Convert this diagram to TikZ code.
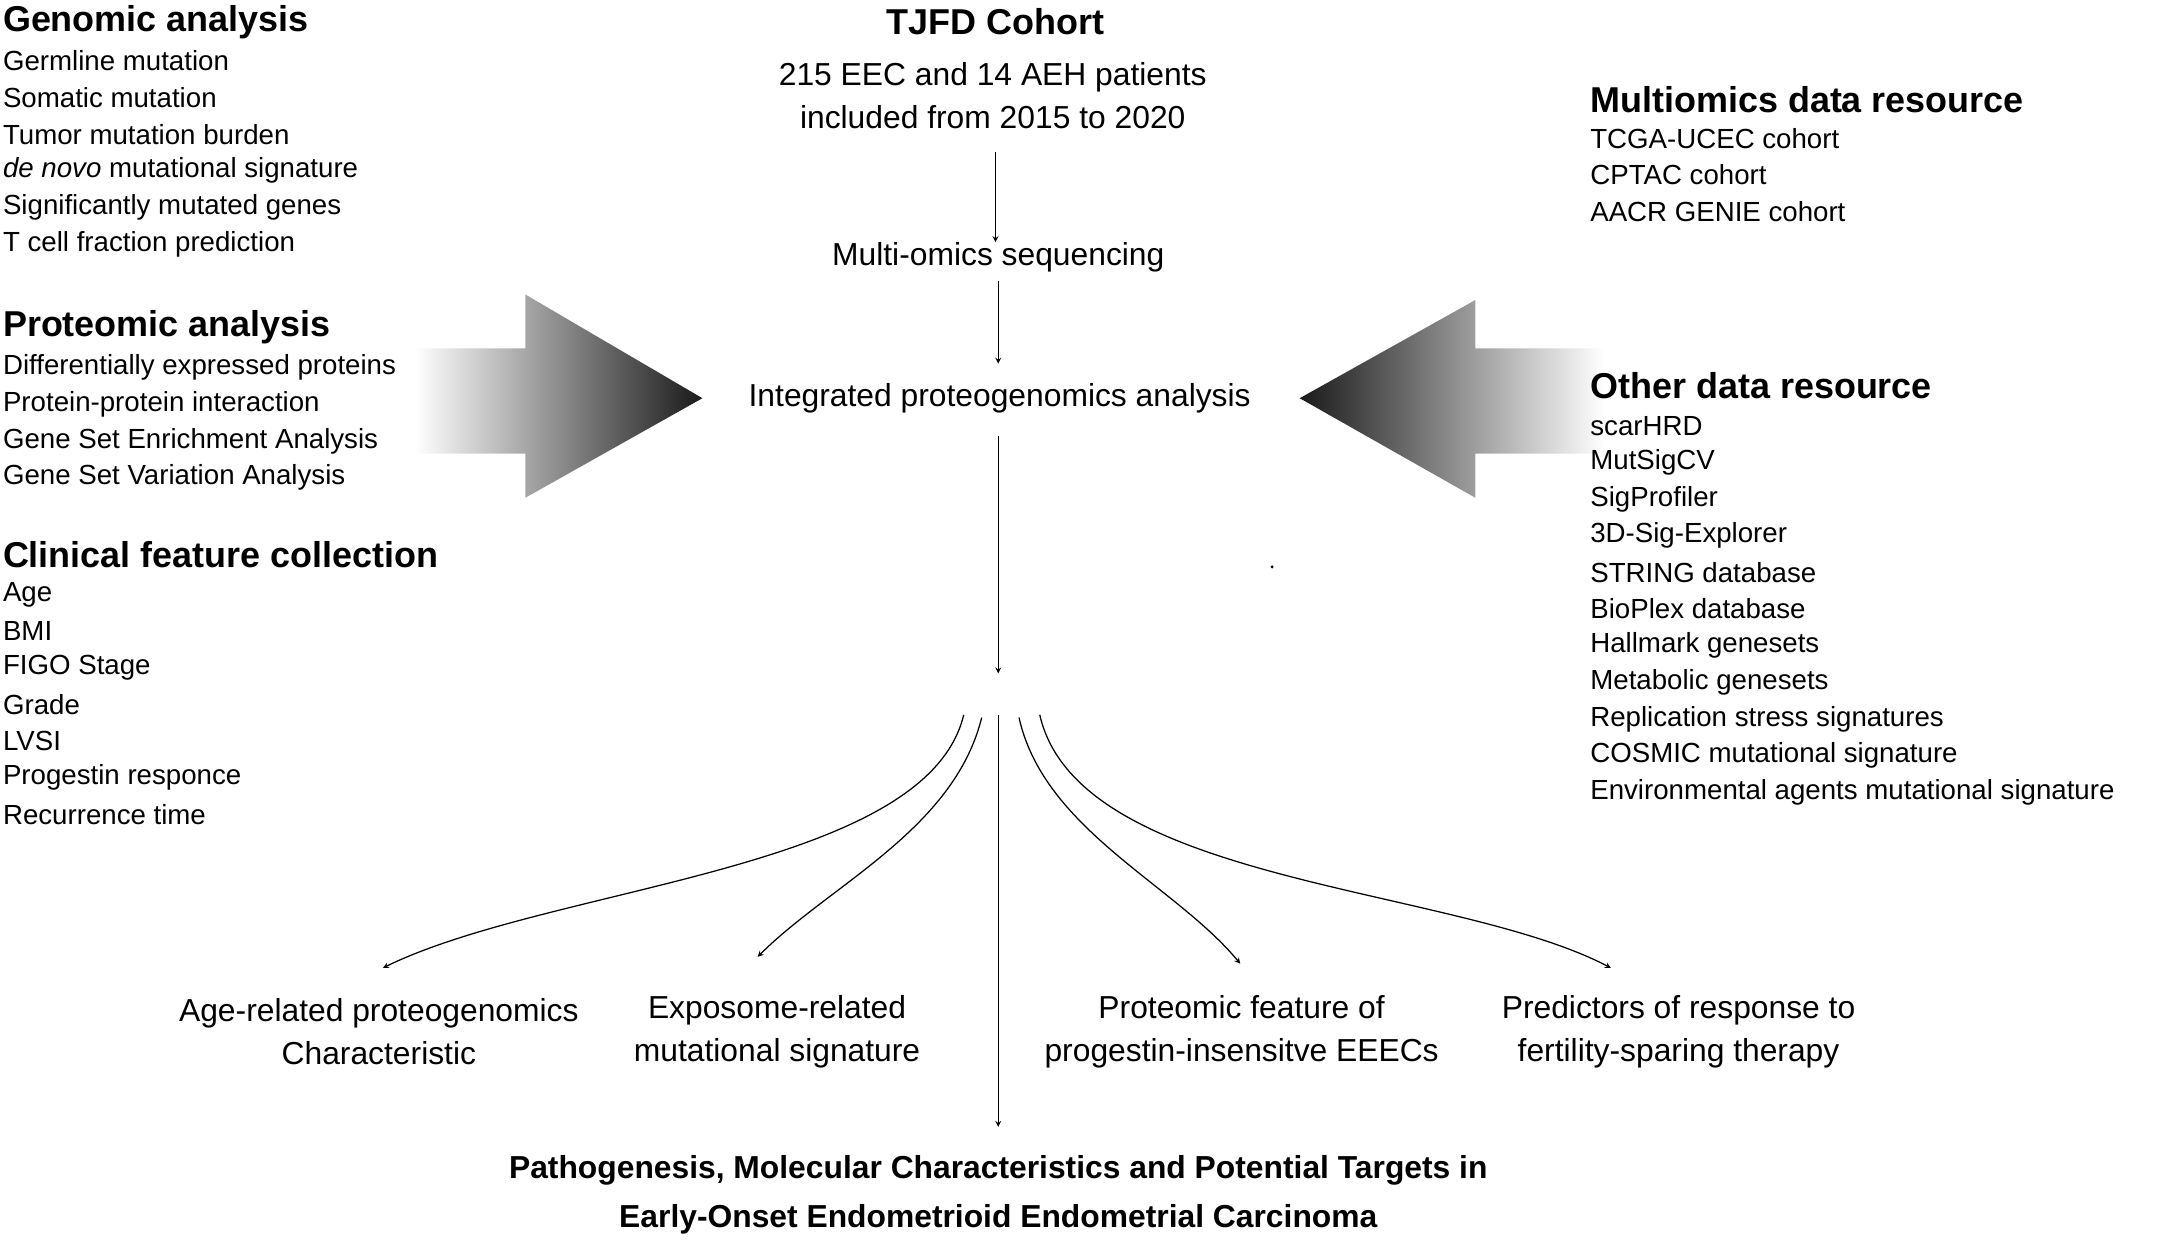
\documentclass[tikz,border=0pt]{standalone}
\usepackage{fontspec}
\setmainfont{Liberation Sans}
\begin{document}
\begin{tikzpicture}[x=1pt,y=-1pt,
  item/.style={anchor=west,inner sep=0pt,font=\fontsize{20}{24}\selectfont},
  head/.style={anchor=west,inner sep=0pt,font=\fontsize{26}{30}\selectfont\bfseries},
  ctext/.style={align=center,inner sep=0pt,font=\fontsize{23}{31}\selectfont},
  final/.style={align=center,inner sep=0pt,font=\fontsize{23}{35}\selectfont\bfseries},
  arr/.style={-stealth,line width=0.9pt}]
\useasboundingbox (0,0) rectangle (1568,902);
% big shaded arrows
\shade[left color=white,middle color=gray!55,right color=black!90]
  (300,252) -- (380,252) -- (380,213) -- (508,288) -- (380,360) -- (380,328) -- (300,328) -- cycle;
\shade[right color=white,middle color=gray!55,left color=black!90]
  (1160,252) -- (1067,252) -- (1067,217) -- (940,288) -- (1067,360) -- (1067,328) -- (1160,328) -- cycle;
% left column
\node[head] (g) at (2,16) {Genomic analysis};
\foreach \t [count=\i] in {Germline mutation,Somatic mutation,Tumor mutation burden,{\textit{de novo} mutational signature},Significantly mutated genes,T cell fraction prediction}
  \node[item] (g\i) at (2,{17.5+26.5*\i}) {\t};
\node[head] (p) at (2,237) {Proteomic analysis};
\foreach \t [count=\i] in {Differentially expressed proteins,Protein-protein interaction,Gene Set Enrichment Analysis,Gene Set Variation Analysis}
  \node[item] (p\i) at (2,{239.5+26.5*\i}) {\t};
\node[head] (c) at (2,401) {Clinical feature collection};
\foreach \t [count=\i] in {Age,BMI,FIGO Stage,Grade,LVSI,Progestin responce,Recurrence time}
  \node[item] (c\i) at (2,{403.5+26.5*\i}) {\t};
% right column
\node[head] (m) at (1150,72) {Multiomics data resource};
\foreach \t [count=\i] in {TCGA-UCEC cohort,CPTAC cohort,AACR GENIE cohort}
  \node[item] (m\i) at (1150,{73.5+26.5*\i}) {\t};
\node[head] (o) at (1150,279) {Other data resource};
\foreach \t [count=\i] in {scarHRD,MutSigCV,SigProfiler,3D-Sig-Explorer,STRING database,BioPlex database,Hallmark genesets,Metabolic genesets,Replication stress signatures,COSMIC mutational signature,Environmental agents mutational signature}
  \node[item] (o\i) at (1150,{281.5+26.5*\i}) {\t};
% centre
\node[ctext,font=\fontsize{26}{30}\selectfont\bfseries] (tj) at (720,16) {TJFD Cohort};
\node[ctext] (coh) at (718,69) {215 EEC and 14 AEH patients\\ included from 2015 to 2020};
\node[ctext] (seq) at (722,186) {Multi-omics sequencing};
\node[ctext] (int) at (723,288) {Integrated proteogenomics analysis};
\coordinate (hub) at (722,487);
\draw[arr] (720,110) -- (seq.north -| 720,0) ;
\draw[arr] (722,203) -- (722,263);
\draw[arr] (722,315) -- (hub);
\fill (920,410) circle (1.2);
\node[ctext] (b1) at (274,746) {Age-related proteogenomics\\Characteristic};
\node[ctext] (b2) at (562,746) {Exposome-related\\mutational signature};
\node[ctext] (b3) at (898,746) {Proteomic feature of\\progestin-insensitve EEECs};
\node[ctext] (b4) at (1214,746) {Predictors of response to\\fertility-sparing therapy};
\node[final] (fin) at (722,864) {Pathogenesis, Molecular Characteristics and Potential Targets in\\Early-Onset Endometrioid Endometrial Carcinoma};
\coordinate (s1) at (697,517);
\coordinate (s2) at (710,519);
\coordinate (s3) at (722,517);
\coordinate (s4) at (737,519);
\coordinate (s5) at (752,517);
\draw[arr] (s1) .. controls (670,630) and (400,640) .. (277,700);
\draw[arr] (s2) .. controls (690,600) and (600,640) .. (548,692);
\draw[arr] (s3) -- (722,815);
\draw[arr] (s4) .. controls (755,600) and (850,640) .. (897,697);
\draw[arr] (s5) .. controls (780,640) and (1050,640) .. (1165,700);
\end{tikzpicture}
\end{document}
